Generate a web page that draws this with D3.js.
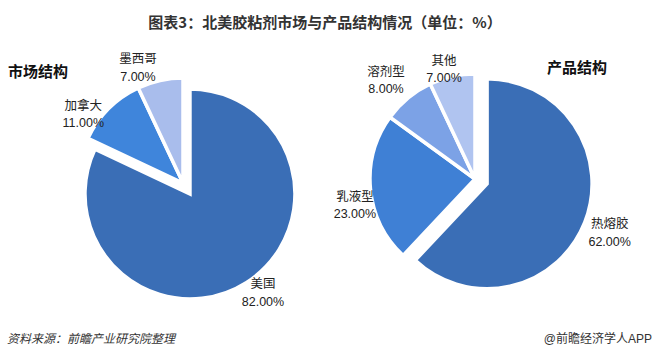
<!DOCTYPE html>
<html><head><meta charset="utf-8">
<script src="https://cdn.jsdelivr.net/npm/d3@7"></script>
<style>body{margin:0;background:#fff}svg{display:block}</style>
</head><body>
<svg id="c" width="657" height="357"></svg>
<script>
// ---- data ----
const titleText = "图表3：北美胶粘剂市场与产品结构情况（单位：%）";
const sourceText = "资料来源：前瞻产业研究院整理";
const brandText = "@前瞻经济学人APP";
const marketTitle = "市场结构";
const marketCategories = ["美国", "加拿大", "墨西哥"];
const marketValues = [82, 11, 7];
const productTitle = "产品结构";
const productCategories = ["热熔胶", "乳液型", "溶剂型", "其他"];
const productValues = [62, 23, 8, 7];

// ---- styles / layout ----
const marketColors = ["#3A6EB6", "#3F85DB", "#A9BDEC"];
const productColors = ["#3A6EB6", "#3F80D5", "#7CA2E6", "#B0C4F0"];
const marketLabelLayout = [{da: -4, r: 123}, {da: -10.5, r: 121}, {da: -8.8, r: 123.5}];
const productLabelLayout = [{da: 0.2, r: 132}, {da: -7.1, r: 123}, {da: -2.5, r: 132.8}, {da: -3.2, r: 113.8}];

const svg = d3.select("#c");
const cjk = "'Liberation Sans', Arial, 'Noto Sans CJK SC', sans-serif";

svg.append("text").attr("x", 325).attr("y", 27.5).attr("text-anchor", "middle")
  .attr("font-family", "'Noto Sans CJK SC', sans-serif").attr("font-weight", "bold")
  .attr("font-size", 15).attr("fill", "#333").text(titleText);

function drawPie(o) {
  const data = o.cats.map((c, i) => ({c, v: o.vals[i]}));
  const arcs = d3.pie().sort(null).value(d => d.v)(data);
  const R = 105;
  const arc = d3.arc().innerRadius(0).outerRadius(R);
  const g = svg.append("g").attr("transform", `translate(${o.cx},${o.cy})`);
  const explode = 13;
  arcs.forEach((a, i) => {
    const mid = (a.startAngle + a.endAngle) / 2;
    const off = i === 0 ? explode : 0;
    const dx = Math.sin(mid) * off, dy = -Math.cos(mid) * off;
    g.append("path").attr("d", arc(a)).attr("transform", `translate(${dx},${dy})`)
      .attr("fill", o.colors[i]).attr("stroke", "#fff").attr("stroke-width", 3.5)
      .attr("stroke-linejoin", "miter").attr("stroke-miterlimit", 10);
    const L = o.layout[i];
    const ang = mid + L.da * Math.PI / 180;
    const lx = dx + Math.sin(ang) * L.r, ly = dy - Math.cos(ang) * L.r;
    const t = g.append("text").attr("text-anchor", "middle").attr("font-family", cjk)
      .attr("font-size", 12.5).attr("fill", "#222");
    t.append("tspan").attr("x", lx).attr("y", ly - 8.75).attr("dominant-baseline", "central").text(a.data.c);
    t.append("tspan").attr("x", lx).attr("y", ly + 8.75).attr("dominant-baseline", "central")
      .text(d3.format(".2f")(a.data.v) + "%");
  });
}

drawPie({cats: marketCategories, vals: marketValues, colors: marketColors, layout: marketLabelLayout, cx: 183, cy: 183});
drawPie({cats: productCategories, vals: productValues, colors: productColors, layout: productLabelLayout, cx: 475, cy: 179});

svg.append("text").attr("x", 8).attr("y", 77).attr("font-family", "'Noto Sans CJK SC', sans-serif")
  .attr("font-weight", "bold").attr("font-size", 15).attr("fill", "#111").text(marketTitle);
svg.append("text").attr("x", 547).attr("y", 73).attr("font-family", "'Noto Sans CJK SC', sans-serif")
  .attr("font-weight", "bold").attr("font-size", 15).attr("fill", "#111").text(productTitle);

svg.append("text").attr("x", 7).attr("y", 343).attr("font-family", cjk).attr("font-style", "italic")
  .attr("font-size", 12).attr("fill", "#333").text(sourceText);
svg.append("text").attr("x", 652).attr("y", 343).attr("text-anchor", "end").attr("font-family", cjk)
  .attr("font-size", 12).attr("fill", "#333").text(brandText);
</script>
</body></html>
